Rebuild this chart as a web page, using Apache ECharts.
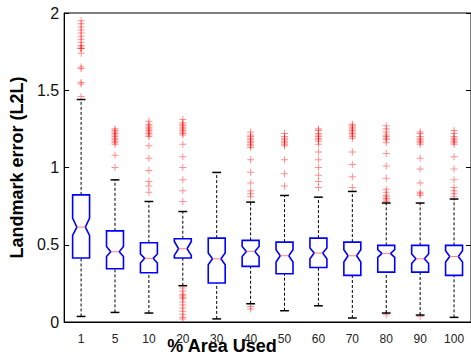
<!DOCTYPE html>
<html>
<head>
<meta charset="utf-8">
<script src="https://cdn.jsdelivr.net/npm/echarts@6/dist/echarts.min.js"></script>
<style>
  html, body { margin: 0; padding: 0; background: #fff; }
  #main { width: 471px; height: 361px; }
</style>
</head>
<body>
<div id="main"></div>
<script>
const categories = ['1', '5', '10', '20', '30', '40', '50', '60', '70', '80', '90', '100'];
const whiskerLow = [0.036, 0.062, 0.058, 0.235, 0.02, 0.118, 0.073, 0.105, 0.026, 0.058, 0.045, 0.03];
const q1 = [0.414, 0.345, 0.319, 0.414, 0.252, 0.36, 0.312, 0.353, 0.302, 0.323, 0.323, 0.302];
const median = [0.614, 0.455, 0.412, 0.474, 0.409, 0.457, 0.429, 0.446, 0.429, 0.444, 0.409, 0.424];
const q3 = [0.823, 0.59, 0.513, 0.539, 0.543, 0.528, 0.517, 0.543, 0.517, 0.496, 0.496, 0.496];
const whiskerHigh = [1.44, 0.92, 0.78, 0.715, 0.968, 0.776, 0.819, 0.808, 0.845, 0.77, 0.77, 0.796];
const notchLow = [0.56, 0.424, 0.382, 0.431, 0.371, 0.424, 0.388, 0.409, 0.388, 0.418, 0.379, 0.388];
const notchHigh = [0.673, 0.489, 0.44, 0.521, 0.446, 0.489, 0.468, 0.479, 0.468, 0.468, 0.44, 0.461];
const outliers = [
  [1.46, 1.54, 1.55, 1.64, 1.65, 1.74, 1.77, 1.77, 1.78, 1.79, 1.81, 1.83, 1.85, 1.87, 1.89, 1.91, 1.93, 1.95],
  [1.0, 1.08, 1.15, 1.16, 1.17, 1.18, 1.19, 1.2, 1.21, 1.22, 1.23, 1.24, 1.25],
  [0.84, 0.88, 0.91, 0.98, 1.06, 1.14, 1.2, 1.21, 1.22, 1.23, 1.24, 1.25, 1.26, 1.27, 1.28, 1.3],
  [0.02, 0.03, 0.05, 0.07, 0.09, 0.11, 0.13, 0.15, 0.16, 0.17, 0.18, 0.2, 0.22,
   0.78, 0.85, 0.92, 1.0, 1.07, 1.15, 1.21, 1.22, 1.23, 1.24, 1.25, 1.26, 1.27, 1.28, 1.29, 1.31],
  [],
  [0.084, 0.1, 0.81, 0.83, 0.85, 0.9, 0.97, 1.05, 1.13, 1.14, 1.15, 1.16, 1.17, 1.18, 1.19, 1.2, 1.21, 1.23],
  [0.88, 0.96, 1.05, 1.14, 1.15, 1.16, 1.17, 1.18, 1.19, 1.2, 1.22],
  [0.87, 0.91, 0.95, 1.0, 1.05, 1.1, 1.15, 1.17, 1.18, 1.19, 1.2, 1.21, 1.22, 1.24, 1.25],
  [0.87, 0.94, 1.02, 1.1, 1.19, 1.2, 1.21, 1.22, 1.23, 1.24, 1.25, 1.26, 1.27, 1.28],
  [0.047, 0.78, 0.79, 0.8, 0.81, 0.82, 0.84, 0.86, 0.93, 1.01, 1.09, 1.16, 1.18, 1.19, 1.2, 1.21, 1.23, 1.25, 1.27],
  [0.036, 0.82, 0.83, 0.84, 0.9, 0.99, 1.06, 1.15, 1.16, 1.17, 1.18, 1.19, 1.2, 1.22, 1.23],
  [0.81, 0.83, 0.85, 0.87, 0.92, 0.99, 1.07, 1.15, 1.16, 1.17, 1.18, 1.19, 1.2, 1.22, 1.24]
];
const yTicks = { min: 0, max: 2, interval: 0.5 };

let chartDom = document.getElementById('main');
let myChart = echarts.init(chartDom, null, { renderer: 'svg' });

let boxData = categories.map(function (c, i) {
    return [i, whiskerLow[i], q1[i], median[i], q3[i], whiskerHigh[i], notchLow[i], notchHigh[i]];
});
let outlierData = [];
outliers.forEach(function (list, i) {
    list.forEach(function (v) { outlierData.push([i, v]); });
});

function renderBox(params, api) {
    let i = api.value(0);
    let band = api.size([1, 0])[0];
    let w = band * 0.25;
    let cw = band * 0.13;
    let p = function (v) { return api.coord([i, v]); };
    let x = p(0)[0];
    let yLow = p(api.value(1))[1];
    let yQ1 = p(api.value(2))[1];
    let yMed = p(api.value(3))[1];
    let yQ3 = p(api.value(4))[1];
    let yHigh = p(api.value(5))[1];
    let yNLo = p(api.value(6))[1];
    let yNHi = p(api.value(7))[1];
    let dashed = { stroke: '#000', lineWidth: 1, lineDash: [3, 2] };
    let cap = { stroke: '#000', lineWidth: 1.5 };
    return {
        type: 'group',
        children: [
            { type: 'line', shape: { x1: x, y1: yQ3, x2: x, y2: yHigh }, style: dashed },
            { type: 'line', shape: { x1: x, y1: yLow, x2: x, y2: yQ1 }, style: dashed },
            { type: 'line', shape: { x1: x - cw, y1: yHigh, x2: x + cw, y2: yHigh }, style: cap },
            { type: 'line', shape: { x1: x - cw, y1: yLow, x2: x + cw, y2: yLow }, style: cap },
            {
                type: 'polygon',
                shape: {
                    points: [
                        [x - w, yQ1], [x - w, yNLo], [x - w / 2, yMed], [x - w, yNHi], [x - w, yQ3],
                        [x + w, yQ3], [x + w, yNHi], [x + w / 2, yMed], [x + w, yNLo], [x + w, yQ1]
                    ]
                },
                style: { fill: 'none', stroke: '#0000ff', lineWidth: 1.6 }
            },
            { type: 'line', shape: { x1: x - w / 2, y1: yMed, x2: x + w / 2, y2: yMed }, style: { stroke: '#ff7f7f', lineWidth: 1 } }
        ]
    };
}

let option = {
    animation: false,
    backgroundColor: '#fff',
    grid: {
        left: 62,
        top: 13,
        width: 410,
        height: 309,
        show: true,
        borderColor: '#000',
        borderWidth: 1,
        backgroundColor: 'transparent'
    },
    xAxis: {
        type: 'category',
        data: categories,
        axisLine: { show: true, lineStyle: { color: '#000', width: 1 } },
        axisTick: { show: false },
        axisLabel: { color: '#222', fontSize: 12, fontFamily: 'Liberation Sans', margin: 11 },
        splitLine: { show: false }
    },
    yAxis: [
        {
            type: 'value',
            min: yTicks.min,
            max: yTicks.max,
            interval: yTicks.interval,
            name: 'Landmark error (L2L)',
            nameLocation: 'middle',
            nameGap: 29,
            nameTextStyle: { fontSize: 18, fontWeight: 'bold', color: '#000', fontFamily: 'Liberation Sans' },
            axisLine: { show: true, lineStyle: { color: '#000', width: 1 } },
            axisTick: { show: true, inside: true, length: 5, lineStyle: { color: '#000' } },
            axisLabel: { color: '#111', fontSize: 16, fontFamily: 'Liberation Sans', margin: 5 },
            splitLine: { show: false }
        },
        {
            type: 'value',
            position: 'right',
            min: yTicks.min,
            max: yTicks.max,
            interval: yTicks.interval,
            axisLine: { show: true, lineStyle: { color: '#000', width: 1 } },
            axisTick: { show: true, inside: true, length: 5, lineStyle: { color: '#000' } },
            axisLabel: { show: false },
            splitLine: { show: false }
        }
    ],
    graphic: [
        {
            type: 'text',
            x: 222,
            y: 346,
            style: {
                text: '% Area Used',
                fontSize: 18,
                fontWeight: 'bold',
                fontFamily: 'Liberation Sans',
                fill: '#000',
                align: 'center',
                verticalAlign: 'middle'
            }
        }
    ],
    series: [
        {
            type: 'scatter',
            data: outlierData,
            symbol: 'path://M3,0H4V3H7V4H4V7H3V4H0V3H3Z',
            symbolSize: 7,
            itemStyle: { color: 'rgba(255,0,0,0.55)' },
            z: 2
        },
        {
            type: 'custom',
            data: boxData,
            renderItem: renderBox,
            encode: { x: 0, y: [1, 2, 3, 4, 5, 6, 7] },
            z: 3
        }
    ]
};

myChart.setOption(option);
</script>
</body>
</html>
